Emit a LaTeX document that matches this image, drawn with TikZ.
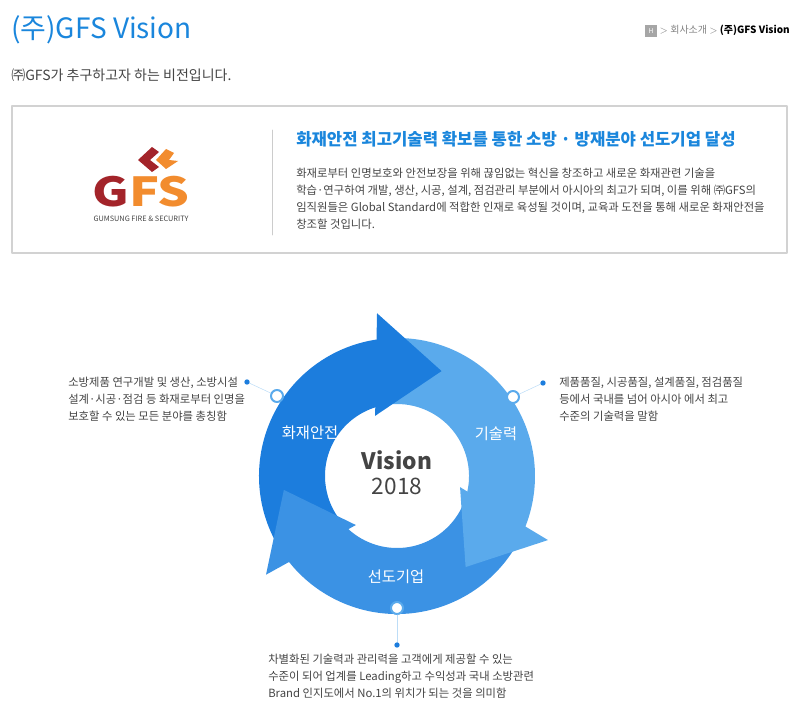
\documentclass[tikz,border=0pt]{standalone}
\usepackage{fontspec}
\setmainfont{Noto Sans CJK KR}
\usepackage{xcolor}
\usetikzlibrary{calc}
\definecolor{gfs_blue}{HTML}{1A86DC}
\definecolor{gfs_gray}{HTML}{444444}
\definecolor{gfs_red}{HTML}{A3242A}
\definecolor{gfs_orange}{HTML}{F28C2E}
\definecolor{ring_a}{HTML}{1C7DDD}
\definecolor{ring_b}{HTML}{5AAAEC}
\definecolor{ring_c}{HTML}{3B92E4}
\tikzset{
    bodytext/.style={text=gfs_gray, font=\fontsize{8.5}{12.6}\selectfont, inner sep=0pt},
    ringlabel/.style={text=white, font=\fontsize{11.5}{13}\selectfont},
    marker/.style={circle, draw=ring_b, fill=white, line width=1.5pt, minimum size=9pt, inner sep=0pt},
}
% body of one ring arrow: start angle, end angle, colour
\newcommand{\ringbody}[3]{%
    \fill[#3] (#1:72) -- (#1:138) arc[start angle=#1, end angle=#2, radius=138]
        -- (#2:72) arc[start angle=#2, end angle=#1, radius=72] -- cycle;
}
% head of one ring arrow: outer base angle, inner base angle, tip angle, colour
\newcommand{\ringhead}[4]{%
    \fill[#4] (#1:164) -- (#3:114) -- (#2:64) -- cycle;
}
\begin{document}
\begin{tikzpicture}[
                x=0.75pt,
                y=-0.75pt,
                line cap=round,
                line join=round,
            ]
            \useasboundingbox (0,0) rectangle (800,706);

            % Header
            \node[anchor=west, text=gfs_blue, font=\fontsize{21}{24}\selectfont, inner sep=0pt] (title) at (11,30) {(주)GFS Vision};
            \node[anchor=west, text=gfs_gray, font=\fontsize{10.5}{13}\selectfont, inner sep=0pt] (subtitle) at (11,75) {㈜GFS가 추구하고자 하는 비전입니다.};
            \node[anchor=east, font=\fontsize{7.5}{9}\selectfont, inner sep=0pt] (crumb) at (790,31)
                {\textcolor{gray}{\colorbox{gray!70}{\textcolor{white}{\tiny H}} $>$ 회사소개 $>$} \textcolor{black}{\bfseries (주)GFS Vision}};

            % Box with logo and statement
            \draw[gray!35, line width=1pt] (12,106) rectangle (787,253);
            \draw[gray!40] (272,130) -- (272,235);
            \fill[gfs_red] (152,147) -- (138,160) -- (152,172) -- (159,167) -- (150,160) -- (159,152) -- cycle;
            \fill[gfs_orange] (166,149) -- (156,160) -- (166,169) -- (178,161) -- (169,160) -- (174,153) -- cycle;
            \node[font=\fontsize{30}{30}\selectfont\bfseries, inner sep=0pt] (logo) at (141,192)
                {\scalebox{1.25}[1]{\textcolor{gfs_red}{G}\textcolor{gfs_orange}{FS}}};
            \node[text=gfs_gray, font=\fontsize{5.5}{6}\selectfont, inner sep=0pt] (logotext) at (141,219) {GUMSUNG FIRE \& SECURITY};
            \node[anchor=west, text=gfs_blue, font=\fontsize{12.5}{15}\selectfont\bfseries, inner sep=0pt] (headline) at (296,139)
                {화재안전 최고기술력 확보를 통한 소방 · 방재분야 선도기업 달성};
            \node[anchor=north west, bodytext, align=left] (statement) at (296,168)
                {화재로부터 인명보호와 안전보장을 위해 끊임없는 혁신을 창조하고 새로운 화재관련 기술을\\
                 학습·연구하여 개발, 생산, 시공, 설계, 점검관리 부분에서 아시아의 최고가 되며, 이를 위해 ㈜GFS의\\
                 임직원들은 Global Standard에 적합한 인재로 육성될 것이며, 교육과 도전을 통해 새로운 화재안전을\\
                 창조할 것입니다.};

            % Vision ring
            \begin{scope}[shift={(397,476)}]
                \ringbody{-215}{-95}{ring_a}
                \ringbody{-95}{25}{ring_b}
                \ringbody{25}{145}{ring_c}
                \ringhead{-97}{-110}{-67}{ring_a}
                \ringhead{23}{10}{53}{ring_b}
                \ringhead{143}{130}{173}{ring_c}
            \end{scope}
            \node[text=gfs_gray, font=\fontsize{17}{18}\selectfont\bfseries, inner sep=0pt] (vision) at (397,460) {Vision};
            \node[text=gfs_gray, font=\fontsize{17}{18}\selectfont, inner sep=0pt] (year) at (397,486) {2018};
            \node[ringlabel] (safety) at (310,433) {화재안전};
            \node[ringlabel] (tech) at (496,434) {기술력};
            \node[ringlabel] (leader) at (396,577) {선도기업};

            % Markers and connectors
            \node[marker] (mleft) at (277,396) {};
            \node[marker] (mright) at (513,397) {};
            \node[marker] (mbottom) at (397,608) {};
            \coordinate (dleft) at (247,382);
            \coordinate (dright) at (543,383);
            \coordinate (dbottom) at (397,645);
            \draw[ring_b!40] (mleft) -- (dleft);
            \draw[ring_b!40] (mright) -- (dright);
            \draw[ring_b!40] (mbottom) -- (dbottom);
            \fill[ring_a] (dleft) circle (2pt) (dright) circle (2pt) (dbottom) circle (2pt);

            % Descriptions
            \node[anchor=north west, bodytext, align=left] (descleft) at (68,377)
                {소방제품 연구개발 및 생산, 소방시설\\ 설계·시공·점검 등 화재로부터 인명을\\ 보호할 수 있는 모든 분야를 총칭함};
            \node[anchor=north west, bodytext, align=left] (descright) at (559,377)
                {제품품질, 시공품질, 설계품질, 점검품질\\ 등에서 국내를 넘어 아시아 에서 최고\\ 수준의 기술력을 말함};
            \node[anchor=north west, bodytext, align=left] (descbottom) at (268,654)
                {차별화된 기술력과 관리력을 고객에게 제공할 수 있는\\ 수준이 되어 업계를 Leading하고 수익성과 국내 소방관련\\ Brand 인지도에서 No.1의 위치가 되는 것을 의미함};
        \end{tikzpicture}
\end{document}
